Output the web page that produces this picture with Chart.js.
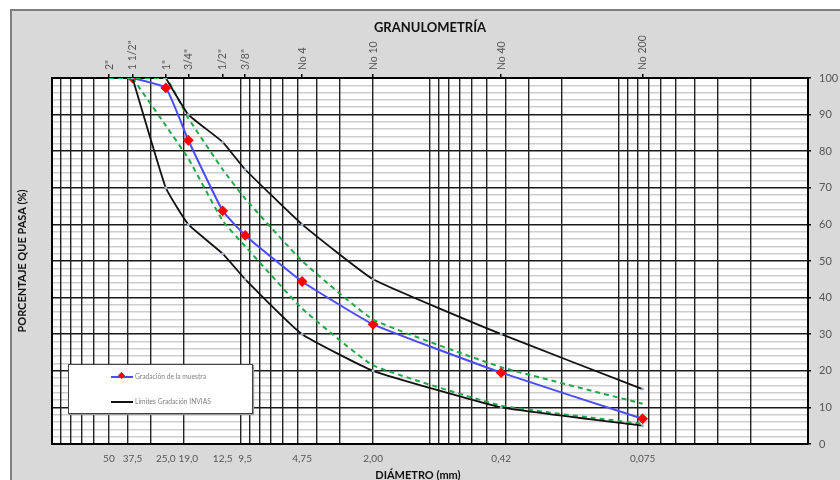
<!DOCTYPE html>
<html>
<head>
<meta charset="utf-8">
<script src="https://cdn.jsdelivr.net/npm/chart.js@4.4.1/dist/chart.umd.min.js"></script>
<style>
  body { margin: 0; background: #fff; font-family: Lato, "Open Sans", sans-serif; }
  #wrap { position: relative; width: 840px; height: 480px; overflow: hidden; }
  #panel { position: absolute; left: 10px; top: 9px; width: 840px; height: 480px;
           background: #d9d9d9; border-left: 2px solid #7f7f7f; border-top: 2px solid #7f7f7f; }
  #chart { position: absolute; left: 0; top: 0; }
  #legend { position: absolute; left: 68px; top: 364px; width: 183px; height: 48px;
            background: #fff; border: 1px solid #444; box-shadow: 1px 1px 1px #999; }
  .item { position: absolute; left: 42px; font-size: 6.7px; color: #808080; white-space: nowrap; }
  .item .line { display: inline-block; width: 22px; height: 2px; vertical-align: middle; position: relative; margin-right: 2px; }
  .item .dot { position: absolute; left: 8px; top: -3px; width: 5px; height: 5px; background: #f00; transform: rotate(45deg); }
</style>
</head>
<body>
<div id="wrap">
  <div id="panel"></div>
  <canvas id="chart" width="840" height="480"></canvas>
  <div id="legend">
    <div class="item" style="top:7px"><span class="line" style="background:#4b4bff"><span class="dot"></span></span>Gradación de la muestra</div>
    <div class="item" style="top:32px"><span class="line" style="background:#111"></span>Límites Gradación INVIAS</div>
  </div>
</div>
<script>
// -------- DATA -------- //
const sieveSizes = [50, 37.5, 25, 19, 12.5, 9.5, 4.75, 2, 0.42, 0.075];
const sieveNames = ['2"', '1 1/2"', '1"', '3/4"', '1/2"', '3/8"', 'No 4', 'No 10', 'No 40', 'No 200'];
const sizeLabels = ['50', '37,5', '25,0', '19,0', '12,5', '9,5', '4,75', '2,00', '0,42', '0,075'];

const sample     = [null, 100, 97.3, 83, 63.7, 57, 44.4, 32.7, 19.5, 6.9];
const upperLimit = [null, null, 100, 90, 82.5, 75, 60, 45, 30, 15];
const lowerLimit = [null, 100, 70, 60, 52, 45, 30, 20, 10, 5];
const upperBand  = [100, 100, 100, 89, 75, 67, 50, 34, 21, 11];
const lowerBand  = [null, 100, 87, 78, 61, 54, 37, 21.5, 10.5, 5.5];

const decades = [0.01, 0.1, 1, 10];
const gridDiameters = decades.flatMap(d => [1, 2, 3, 4, 5, 6, 7, 8, 9].map(k => k * d)).concat([100]);

const FONT = 'Lato, "Open Sans", sans-serif';

function toPoints(values) {
  return values.map((v, i) => v === null ? null : { x: sieveSizes[i], y: v }).filter(p => p);
}

// white plot background
const plotBg = {
  id: 'plotBg',
  beforeDraw(chart) {
    const a = chart.chartArea;
    chart.ctx.save();
    chart.ctx.fillStyle = '#fff';
    chart.ctx.fillRect(a.left, a.top, a.right - a.left, a.bottom - a.top);
    chart.ctx.restore();
  }
};

const limitLine = {
  borderColor: '#111', borderWidth: 1.8, pointRadius: 1.5, pointBorderWidth: 0,
  pointBackgroundColor: '#9fb3cf', tension: 0.12
};
const bandLine = {
  borderColor: '#22a84a', borderWidth: 2, borderDash: [5, 4], pointRadius: 0, tension: 0.12
};

new Chart(document.getElementById('chart'), {
  type: 'line',
  data: {
    datasets: [
      { label: 'Límite inferior', data: toPoints(lowerLimit), ...limitLine },
      { label: 'Límite superior', data: toPoints(upperLimit), ...limitLine },
      { label: 'Franja superior', data: toPoints(upperBand), ...bandLine },
      { label: 'Franja inferior', data: toPoints(lowerBand), ...bandLine },
      {
        label: 'Gradación de la muestra', data: toPoints(sample),
        borderColor: '#4b4bff', borderWidth: 2, tension: 0.12,
        pointStyle: 'rectRot', pointRadius: 4, pointBackgroundColor: '#ff0000', pointBorderColor: '#ff0000'
      }
    ]
  },
  options: {
    responsive: false,
    animation: false,
    layout: { padding: 0 },
    plugins: {
      legend: { display: false },
      tooltip: { enabled: false },
      title: {
        display: true, text: 'GRANULOMETRÍA', fullSize: false, color: '#111',
        font: { family: FONT, size: 13, weight: 'bold', lineHeight: 1.2 },
        padding: { top: 20, bottom: 0 }
      }
    },
    scales: {
      y: {
        type: 'linear', position: 'left', min: 0, max: 100, z: -1,
        ticks: { display: false, stepSize: 2 },
        grid: {
          drawTicks: false,
          color: c => c.tick.value % 10 === 0 ? '#1a1a1a' : '#cdcdcd',
          lineWidth: 1.6
        },
        border: { color: '#000', width: 2 },
        title: {
          display: true, text: 'PORCENTAJE QUE PASA (%)', color: '#111',
          font: { family: FONT, size: 11, weight: 'bold' }, padding: { top: 16, bottom: 0 }
        },
        afterFit: s => { s.width = 52; }
      },
      yr: {
        type: 'linear', position: 'right', min: 0, max: 100,
        ticks: { stepSize: 10, padding: 8, color: '#555', font: { family: FONT, size: 11 } },
        grid: { drawOnChartArea: false, tickLength: 3, color: '#000', lineWidth: 1.5 },
        border: { color: '#000', width: 2 },
        afterFit: s => { s.width = 32; }
      },
      x: {
        type: 'logarithmic', position: 'bottom', min: 0.01, max: 100, reverse: true,
        ticks: { display: false },
        grid: { drawTicks: false, color: '#222', lineWidth: 1.4 },
        border: { color: '#000', width: 2 },
        afterBuildTicks: s => { s.ticks = gridDiameters.map(v => ({ value: v })); },
        afterFit: s => { s.height = 0; }
      },
      xb: {
        type: 'logarithmic', position: 'bottom', min: 0.01, max: 100, reverse: true,
        afterBuildTicks: s => { s.ticks = sieveSizes.map(v => ({ value: v })); },
        ticks: {
          autoSkip: false, minRotation: 0, maxRotation: 0, padding: 9, color: '#555',
          font: { family: FONT, size: 10 }, callback: (v, i) => sizeLabels[i]
        },
        grid: { display: false, drawTicks: false },
        border: { display: false },
        title: {
          display: true, text: 'DIÁMETRO (mm)' + '\u00a0'.repeat(9), color: '#111',
          font: { family: FONT, size: 11, weight: 'bold', lineHeight: 0.8 }, padding: 0
        },
        afterFit: s => { s.height = 36; }
      },
      xt: {
        type: 'logarithmic', position: 'top', min: 0.01, max: 100, reverse: true,
        afterBuildTicks: s => { s.ticks = sieveSizes.map(v => ({ value: v })); },
        ticks: {
          autoSkip: false, minRotation: 90, maxRotation: 90, padding: 4, labelOffset: 13,
          color: '#555', font: { family: FONT, size: 10.5 }, callback: (v, i) => sieveNames[i]
        },
        grid: { drawOnChartArea: false, drawTicks: true, tickLength: 4, color: '#000', lineWidth: 1.5 },
        border: { color: '#000', width: 2 },
        afterFit: s => { s.height = 42.4; }
      }
    }
  },
  plugins: [plotBg]
});
</script>
</body>
</html>
